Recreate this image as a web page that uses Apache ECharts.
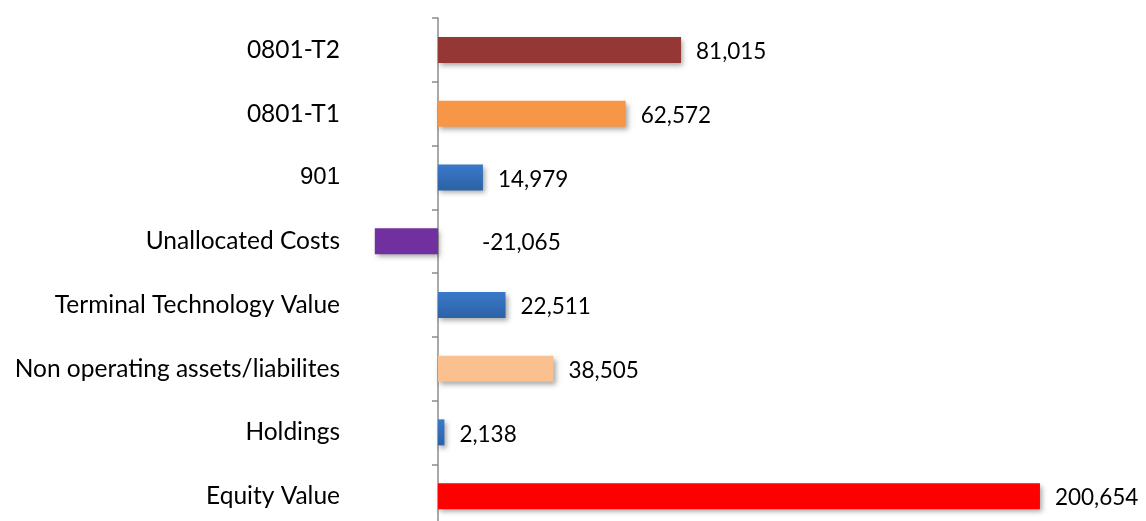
<!DOCTYPE html>
<html>
<head>
<meta charset="utf-8">
<script src="https://cdn.jsdelivr.net/npm/echarts@6/dist/echarts.min.js"></script>
<style>
  html, body { margin: 0; padding: 0; background: #fff; }
  #chart { width: 1146px; height: 521px; }
</style>
</head>
<body>
<div id="chart"></div>
<script>
// Categories listed bottom-to-top (category axis draws the first entry at the bottom)
const categories = [
  'Equity Value',
  'Holdings',
  'Non operating assets/liabilites',
  'Terminal Technology Value',
  'Unallocated Costs',
  '901',
  '0801-T1',
  '0801-T2'
];
const values = [200654, 2138, 38505, 22511, -21065, 14979, 62572, 81015];

const blueGrad = {
  type: 'linear', x: 0, y: 0, x2: 0, y2: 1,
  colorStops: [{ offset: 0, color: '#3a79ca' }, { offset: 1, color: '#2c62a5' }]
};
const barColors = ['#ff0000', blueGrad, '#fac090', blueGrad, '#7030a0', blueGrad, '#f79646', '#953735'];

const FONT = 'Lato, "Open Sans", sans-serif';

const chart = echarts.init(document.getElementById('chart'), null, { renderer: 'canvas' });

chart.setOption({
  animation: false,
  // the category axis sits at value 0; negative bars extend left past it
  grid: { left: 438, right: 0, top: 18, bottom: -7, containLabel: false, outerBoundsMode: 'none' },
  xAxis: {
    type: 'value',
    min: 0,
    max: 236000,
    show: false
  },
  yAxis: {
    type: 'category',
    data: categories,
    axisLine: { onZero: false, lineStyle: { color: '#8c8c8c', width: 1.5 } },
    axisTick: { show: true, length: 6, lineStyle: { color: '#8c8c8c', width: 1.5 } },
    axisLabel: {
      margin: 98,
      color: '#000',
      fontFamily: FONT,
      fontSize: 24.5,
      formatter: v => v === '901' ? '{arial|' + v + '}' : v,
      rich: {
        arial: { fontFamily: '"Liberation Sans", Arial, sans-serif', fontSize: 24, color: '#000' }
      }
    },
    splitLine: { show: false }
  },
  series: [{
    type: 'bar',
    clip: false,
    barWidth: 26,
    z: 1,
    data: values.map((v, i) => ({
      value: v,
      itemStyle: { color: barColors[i] },
      label: v < 0 ? { distance: 44 } : undefined
    })),
    itemStyle: {
      shadowColor: 'rgba(0,0,0,0.35)',
      shadowBlur: 5,
      shadowOffsetX: 2,
      shadowOffsetY: 3
    },
    label: {
      show: true,
      position: 'right',
      distance: 15,
      offset: [0, 2],
      color: '#000',
      fontFamily: FONT,
      fontSize: 22.5,
      formatter: p => p.value.toLocaleString('en-US')
    }
  }]
});
</script>
</body>
</html>
